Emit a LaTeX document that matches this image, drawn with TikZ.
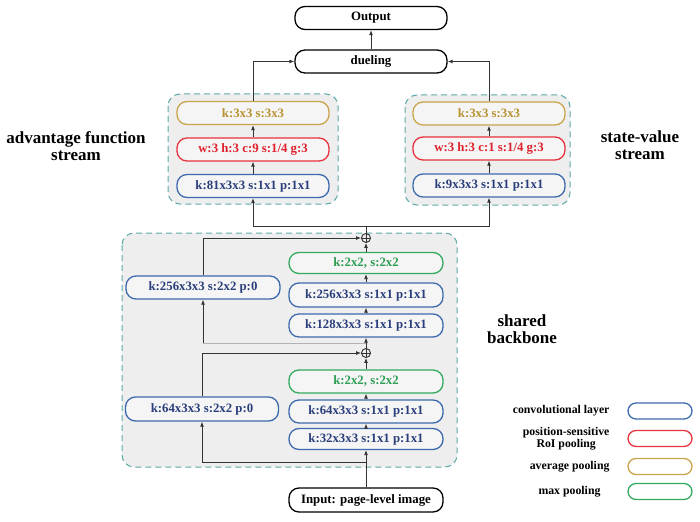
\documentclass[tikz,border=0pt]{standalone}
\usepackage{fontspec}
\setmainfont{Liberation Serif}
\usetikzlibrary{arrows.meta}
\definecolor{convB}{HTML}{3D6AAE}
\definecolor{convT}{HTML}{2A3E7C}
\definecolor{redB}{HTML}{E8323C}
\definecolor{redT}{HTML}{E0202C}
\definecolor{yelB}{HTML}{C9A44A}
\definecolor{yelT}{HTML}{B89331}
\definecolor{grnB}{HTML}{33AA5E}
\definecolor{grnT}{HTML}{2E9E55}
\definecolor{teal2}{HTML}{5BA9A6}
\definecolor{boxfill}{HTML}{EEEEEE}
\definecolor{linec}{HTML}{333333}
\tikzset{
  lay/.style={rounded corners=10pt, line width=1.3pt, minimum width=152pt, minimum height=23pt, inner sep=1pt,
    font=\bfseries\fontsize{12.8}{14}\selectfont},
  blk/.style={lay, draw=black, fill=white},
  conv/.style={lay, draw=convB, text=convT, fill=boxfill!60!white},
  psr/.style={lay, draw=redB, text=redT, fill=boxfill!60!white},
  avgp/.style={lay, draw=yelB, text=yelT, fill=boxfill!60!white},
  maxp/.style={lay, draw=grnB, text=grnT, fill=boxfill!60!white},
  region/.style={draw=teal2, fill=boxfill, line width=1pt, dash pattern=on 6pt off 4pt, rounded corners=12pt},
  conn/.style={draw=linec, line width=0.9pt, -{Latex[length=5pt,width=4pt]}},
  plain/.style={draw=linec, line width=0.9pt},
  opl/.style={circle, draw=linec, line width=0.9pt, minimum size=9pt, inner sep=0pt},
  big/.style={font=\bfseries\fontsize{17}{20}\selectfont, align=center},
  leg/.style={font=\bfseries\fontsize{11.8}{13.5}\selectfont, align=center, anchor=east},
  legbox/.style={rounded corners=8pt, line width=1.3pt, minimum width=64pt, minimum height=16pt, inner sep=0pt}
}
\begin{document}
\begin{tikzpicture}[x=1pt,y=-1pt]
\useasboundingbox (0,0) rectangle (700,521);
% regions
\path[region] (168,94) rectangle (338,204);
\path[region] (405,95) rectangle (570,205);
\path[region] (122,233) rectangle (457,467);
% top
\node[blk] (out) at (371,18) {Output};
\node[blk] (duel) at (371,61.5) {dueling};
% left stream
\node[avgp] (Lavg) at (253,113) {k:3x3 s:3x3};
\node[psr] (Lred) at (253,149.5) {w:3 h:3 c:9 s:1/4 g:3};
\node[conv] (Lblue) at (253,186) {k:81x3x3 s:1x1 p:1x1};
% right stream
\node[avgp] (Ravg) at (489,113.5) {k:3x3 s:3x3};
\node[psr] (Rred) at (489,148.5) {w:3 h:3 c:1 s:1/4 g:3};
\node[conv] (Rblue) at (489,185.5) {k:9x3x3 s:1x1 p:1x1};
% backbone
\node[opl] (op1) at (366,238) {};
\draw[plain] (op1.north)--(op1.south) (op1.west)--(op1.east);
\node[maxp, minimum width=154pt, minimum height=21pt] (g1) at (366,263) {k:2x2, s:2x2};
\node[conv, minimum width=154pt, minimum height=24pt] (c256) at (366,295) {k:256x3x3 s:1x1 p:1x1};
\node[conv, minimum width=154pt] (c128) at (366,325.5) {k:128x3x3 s:1x1 p:1x1};
\node[conv, minimum width=154pt] (l256) at (203,287.5) {k:256x3x3 s:2x2 p:0};
\node[opl] (op2) at (366,353) {};
\draw[plain] (op2.north)--(op2.south) (op2.west)--(op2.east);
\node[maxp, minimum width=154pt] (g2) at (366,381.5) {k:2x2, s:2x2};
\node[conv, minimum width=154pt] (c64) at (366,411.5) {k:64x3x3 s:1x1 p:1x1};
\node[conv, minimum width=154pt, minimum height=21pt] (c32) at (366,439) {k:32x3x3 s:1x1 p:1x1};
\node[conv, minimum width=153pt, minimum height=24pt] (l64) at (202,409) {k:64x3x3 s:2x2 p:0};
\node[blk, minimum width=154pt, minimum height=24pt] (inp) at (366,500) {Input: page-level image};
% labels
\node[big] (lab1) at (76,146) {advantage function\\[-3pt]stream};
\node[big] (lab2) at (640,145) {state-value\\[-3pt]stream};
\node[big] (lab3) at (522,329) {shared\\[-3pt]backbone};
% connectors
\coordinate (j1) at (366,462);
\coordinate (j2) at (366,343);
\coordinate (j2l) at (203,343);
\coordinate (j3) at (366,226);
\draw[conn] (inp.north) -- (c32.south);
\draw[conn] (j1) -| (l64.south);
\draw[conn] (c32) -- (c64);
\draw[conn] (c64) -- (g2);
\draw[conn] (g2) -- (op2);
\draw[conn] (l64.north) |- (op2.west);
\draw[conn] (op2) -- (c128);
\draw[plain, draw=gray!60] (j2) -- (j2l);
\draw[conn] (j2l) -- (l256.south);
\draw[conn] (c128) -- (c256);
\draw[conn] (c256) -- (g1);
\draw[conn] (g1) -- (op1);
\draw[conn] (l256.north) |- (op1.west);
\draw[plain] (op1.north) -- (j3);
\draw[conn] (j3) -| (Lblue.south);
\draw[conn] (j3) -| (Rblue.south);
\draw[conn] (Lblue) -- (Lred);
\draw[conn] (Lred) -- (Lavg);
\draw[conn] (Rblue) -- (Rred);
\draw[conn] (Rred) -- (Ravg);
\draw[conn] (Lavg.north) |- (duel.west);
\draw[conn] (Ravg.north) |- (duel.east);
\draw[conn] (duel) -- (out);
% legend
\node[legbox, draw=convB] (k1) at (660,411) {};
\node[legbox, draw=redB] (k2) at (660,438.5) {};
\node[legbox, draw=yelB] (k3) at (660,466.5) {};
\node[legbox, draw=grnB] (k4) at (660,491.5) {};
\node[leg] (t1) at (613,411) {convolutional layer};
\node[leg] (t2) at (613,438.5) {position-sensitive\\[-2pt]RoI pooling};
\node[leg] (t3) at (613,467) {average pooling};
\node[leg] (t4) at (604,492) {max pooling};
\end{tikzpicture}
\end{document}
